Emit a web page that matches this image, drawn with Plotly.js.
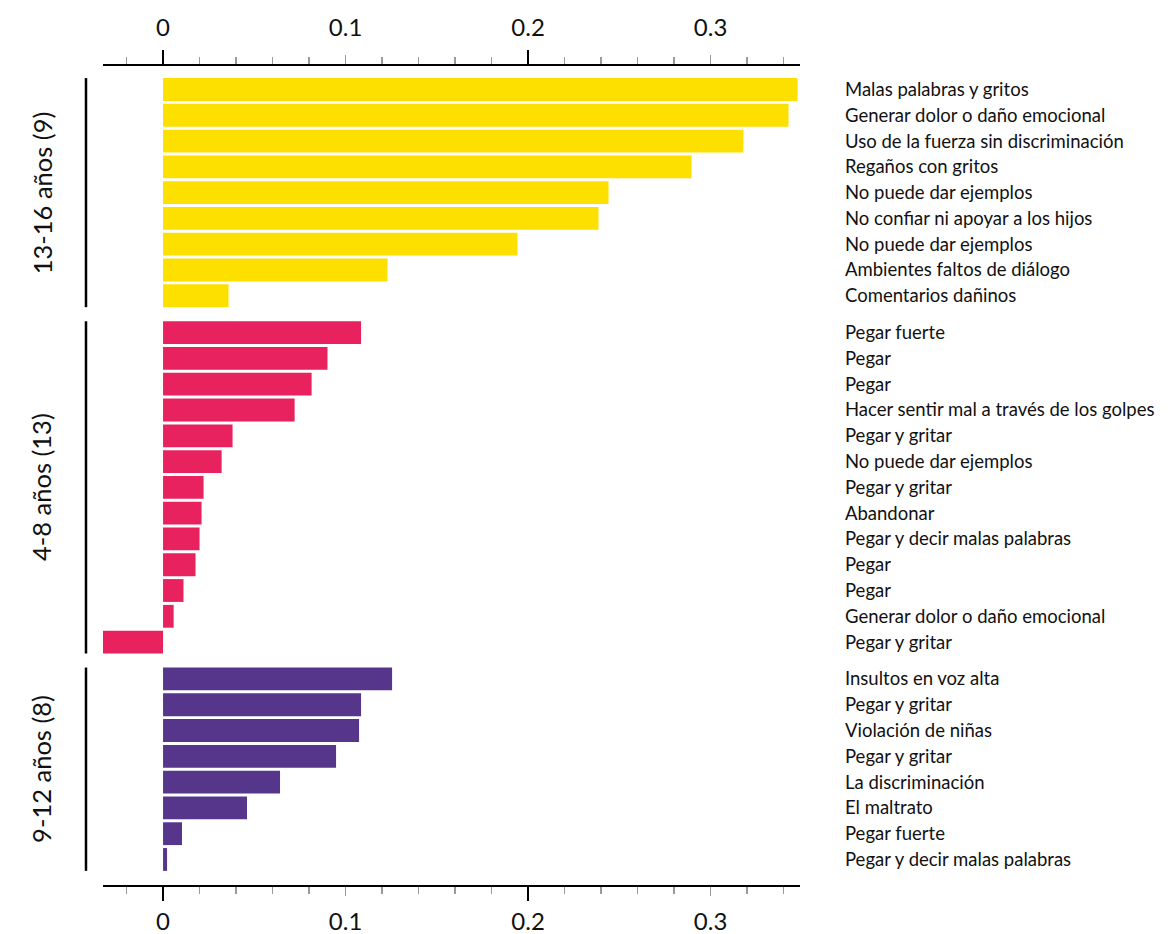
<!DOCTYPE html>
<html>
<head>
<meta charset="utf-8">
<script src="https://cdn.plot.ly/plotly-3.0.1.min.js"></script>
<style>html,body{margin:0;padding:0;background:#fff;}#chart{width:1172px;height:934px;}</style>
</head>
<body>
<div id="chart"></div>
<script>
// ---- data ----
const groupNames = ["13-16 años (9)", "4-8 años (13)", "9-12 años (8)"];
const groupColors = ["#FEE000", "#E8215F", "#55368A"];

const labels1316 = ["Malas palabras y gritos","Generar dolor o daño emocional","Uso de la fuerza sin discriminación","Regaños con gritos","No puede dar ejemplos","No confiar ni apoyar a los hijos","No puede dar ejemplos","Ambientes faltos de diálogo","Comentarios dañinos"];
const values1316 = [0.3477, 0.3427, 0.318, 0.2896, 0.2441, 0.2386, 0.1942, 0.123, 0.0359];

const labels48 = ["Pegar fuerte","Pegar","Pegar","Hacer sentir mal a través de los golpes","Pegar y gritar","No puede dar ejemplos","Pegar y gritar","Abandonar","Pegar y decir malas palabras","Pegar","Pegar","Generar dolor o daño emocional","Pegar y gritar"];
const values48 = [0.1085, 0.0901, 0.0814, 0.0721, 0.0381, 0.0321, 0.0222, 0.0211, 0.0200, 0.0178, 0.0112, 0.0058, -0.0332];

const labels912 = ["Insultos en voz alta","Pegar y gritar","Violación de niñas","Pegar y gritar","La discriminación","El maltrato","Pegar fuerte","Pegar y decir malas palabras"];
const values912 = [0.1255, 0.1085, 0.1074, 0.0948, 0.0641, 0.046, 0.0104, 0.0022];

const xTicks = [0, 0.1, 0.2, 0.3];
const xTickText = ["0", "0.1", "0.2", "0.3"];
const xMajorBlack = [0, 0.2];

// ---- layout helpers ----
const groups = [
  {labels: labels1316, values: values1316},
  {labels: labels48, values: values48},
  {labels: labels912, values: values912}
];
const GAP = 0.43;      // extra space between groups (in bar slots)
const BARW = 0.885;
let cursor = 0;
const traces = [];
const tickvals = [], ticktext = [];
const shapes = [], annotations = [];
const FONT = "Lato, 'Open Sans', sans-serif";

groups.forEach((g, gi) => {
  const ys = g.values.map((v, i) => cursor + i);
  traces.push({
    type: 'bar', orientation: 'h',
    x: g.values, y: ys, width: BARW,
    marker: {color: groupColors[gi], line: {width: 0}},
    hoverinfo: 'skip', showlegend: false
  });
  ys.forEach((y, i) => { tickvals.push(y); ticktext.push(g.labels[i]); });
  const top = ys[0] - BARW / 2, bot = ys[ys.length - 1] + BARW / 2;
  shapes.push({type: 'line', xref: 'paper', yref: 'y', x0: -0.0244, x1: -0.0244, y0: top, y1: bot,
               line: {color: '#000', width: 2.5}});
  annotations.push({xref: 'paper', yref: 'y', x: -0.088, y: (top + bot) / 2, text: groupNames[gi],
                    textangle: -90, showarrow: false, xanchor: 'center', yanchor: 'middle',
                    font: {family: FONT, size: 25.5, color: '#111'}});
  cursor += g.values.length + GAP;
});
const lastPos = tickvals[tickvals.length - 1];
const xRange = [-0.0329, 0.349];

const baseX = {
  range: xRange, showgrid: false, zeroline: false, fixedrange: true,
  showline: true, linecolor: '#000', linewidth: 2
};
const minorTicks = {tick0: 0, dtick: 0.02, ticks: 'outside', ticklen: 7, tickwidth: 1.5, tickcolor: '#9a9a9a'};

const layout = {
  width: 1172, height: 934,
  margin: {l: 103, r: 372, t: 66, b: 49, pad: 0},
  paper_bgcolor: '#fff', plot_bgcolor: '#fff',
  barmode: 'overlay',
  font: {family: FONT, color: '#111'},
  xaxis: Object.assign({}, baseX, {
    side: 'bottom', anchor: 'y',
    tickvals: xTicks, ticktext: xTickText,
    ticks: 'outside', ticklen: 9, tickwidth: 1.5, tickcolor: '#9a9a9a',
    ticklabelstandoff: 5,
    tickfont: {family: FONT, size: 24, color: '#111'},
    minor: minorTicks
  }),
  xaxis2: Object.assign({}, baseX, {
    side: 'top', anchor: 'y', overlaying: 'x',
    tickvals: xTicks, ticktext: xTickText,
    ticks: 'outside', ticklen: 9, tickwidth: 1.5, tickcolor: '#9a9a9a',
    ticklabelstandoff: 9,
    tickfont: {family: FONT, size: 24, color: '#111'},
    minor: minorTicks
  }),
  xaxis3: Object.assign({}, baseX, {
    side: 'bottom', anchor: 'y', overlaying: 'x', showline: false,
    tickvals: xMajorBlack, ticks: 'outside', ticklen: 15, tickwidth: 2, tickcolor: '#000',
    showticklabels: false
  }),
  xaxis4: Object.assign({}, baseX, {
    side: 'top', anchor: 'y', overlaying: 'x', showline: false,
    tickvals: xMajorBlack, ticks: 'outside', ticklen: 15, tickwidth: 2, tickcolor: '#000',
    showticklabels: false
  }),
  yaxis: {
    range: [lastPos + 0.99, -0.91], side: 'right',
    tickvals: tickvals, ticktext: ticktext, ticks: '',
    ticklabelstandoff: 44,
    showgrid: false, zeroline: false, showline: false, fixedrange: true,
    tickfont: {family: FONT, size: 18.5, color: '#111'}
  },
  shapes: shapes,
  annotations: annotations
};

// empty traces so the overlay axes are drawn
traces.push({type: 'scatter', x: [], y: [], xaxis: 'x2', yaxis: 'y', showlegend: false, hoverinfo: 'skip'});
traces.push({type: 'scatter', x: [], y: [], xaxis: 'x3', yaxis: 'y', showlegend: false, hoverinfo: 'skip'});
traces.push({type: 'scatter', x: [], y: [], xaxis: 'x4', yaxis: 'y', showlegend: false, hoverinfo: 'skip'});

Plotly.newPlot('chart', traces, layout, {displayModeBar: false, staticPlot: true});
</script>
</body>
</html>
